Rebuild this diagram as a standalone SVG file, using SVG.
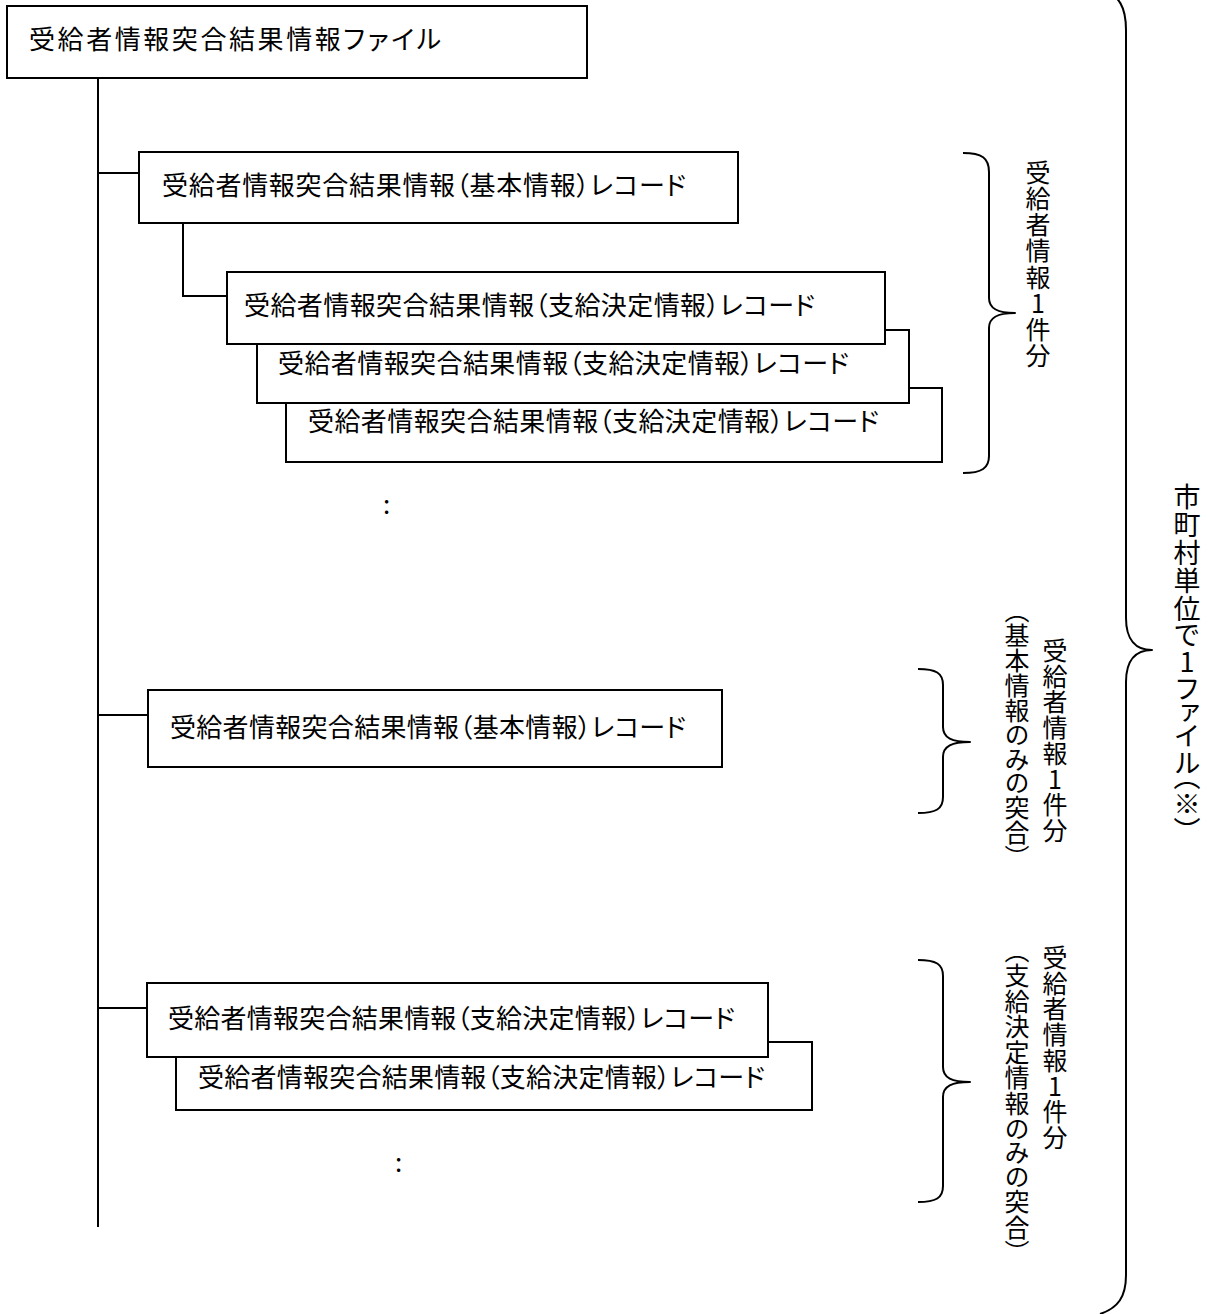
<svg xmlns="http://www.w3.org/2000/svg" width="1212" height="1314" viewBox="0 0 1212 1314">
<style>
.box{fill:#fff;stroke:#000;stroke-width:2}
.ln{fill:none;stroke:#000;stroke-width:2}
.br{fill:none;stroke:#000;stroke-width:2;stroke-linejoin:round}
.t{font-family:"Noto Sans CJK JP","Noto Sans CJK SC",sans-serif;font-size:26px;fill:#000;font-feature-settings:"palt"}
.v{font-family:"Noto Sans CJK JP","Noto Sans CJK SC",sans-serif;font-size:25px;fill:#000;writing-mode:vertical-rl;text-orientation:upright;font-feature-settings:"vpal"}
.vb{font-size:27px}
</style>
<rect width="1212" height="1314" fill="#fff"/>
<g id="connectors">
<path class="ln" d="M98 78 V1227"/>
<path class="ln" d="M98 173 H139"/>
<path class="ln" d="M183 223 V296 H227"/>
<path class="ln" d="M98 715 H148"/>
<path class="ln" d="M98 1008 H147"/>
</g>
<g id="file">
<rect class="box" x="7" y="6" width="580" height="72"/>
<text class="t" x="29" y="49" textLength="412">受給者情報突合結果情報ファイル</text>
</g>
<g id="basic1">
<rect class="box" x="139" y="152" width="599" height="71"/>
<text class="t" x="162" y="195" textLength="524">受給者情報突合結果情報（基本情報）レコード</text>
</g>
<g id="payment1c">
<rect class="box" x="286" y="388" width="656" height="74"/>
<text class="t" x="308" y="431" textLength="571">受給者情報突合結果情報（支給決定情報）レコード</text>
</g>
<g id="payment1b">
<rect class="box" x="257" y="330" width="652" height="73"/>
<text class="t" x="278" y="373" textLength="571">受給者情報突合結果情報（支給決定情報）レコード</text>
</g>
<g id="payment1a">
<rect class="box" x="227" y="272" width="658" height="72"/>
<text class="t" x="244" y="315" textLength="571">受給者情報突合結果情報（支給決定情報）レコード</text>
</g>
<g id="dots1"><text class="t" x="383" y="514">:</text></g>
<g id="basic2">
<rect class="box" x="148" y="690" width="574" height="77"/>
<text class="t" x="170" y="737" textLength="516">受給者情報突合結果情報（基本情報）レコード</text>
</g>
<g id="payment3b">
<rect class="box" x="176" y="1042" width="636" height="68"/>
<text class="t" x="198" y="1087" textLength="567">受給者情報突合結果情報（支給決定情報）レコード</text>
</g>
<g id="payment3a">
<rect class="box" x="147" y="983" width="621" height="74"/>
<text class="t" x="168" y="1028" textLength="567">受給者情報突合結果情報（支給決定情報）レコード</text>
</g>
<g id="dots2"><text class="t" x="395" y="1172">:</text></g>
<g id="brace1">
<path class="br" d="M963 153 C982 153 989 158 989 172 V298 C989 309 998 313 1015 313 C998 313 989 317 989 328 V456 C989 468 982 473 963 473"/>
<text class="v" x="1038" y="160" textLength="208">受給者情報1件分</text>
</g>
<g id="brace2">
<path class="br" d="M918 669 C936 669 943 673 943 685 V727 C943 738 952 742 970 742 C952 742 943 746 943 757 V797 C943 809 936 813 918 813"/>
<text class="v" x="1055" y="638" textLength="205">受給者情報1件分</text>
<text class="v" x="1017" y="610" textLength="248">（基本情報のみの突合）</text>
</g>
<g id="brace3">
<path class="br" d="M918 960 C936 960 943 964 943 976 V1067 C943 1078 952 1082 970 1082 C952 1082 943 1086 943 1097 V1186 C943 1198 936 1202 918 1202"/>
<text class="v" x="1055" y="945" textLength="205">受給者情報1件分</text>
<text class="v" x="1017" y="950" textLength="303">（支給決定情報のみの突合）</text>
</g>
<g id="brace-all">
<path class="br" d="M1100 -12 C1120 -5 1126 8 1126 30 V618 C1126 640 1136 650 1152 650 C1136 650 1126 660 1126 682 V1275 C1126 1297 1118 1308 1100 1314"/>
<text class="v vb" x="1187" y="483" textLength="349">市町村単位で1ファイル（※）</text>
</g>
</svg>
